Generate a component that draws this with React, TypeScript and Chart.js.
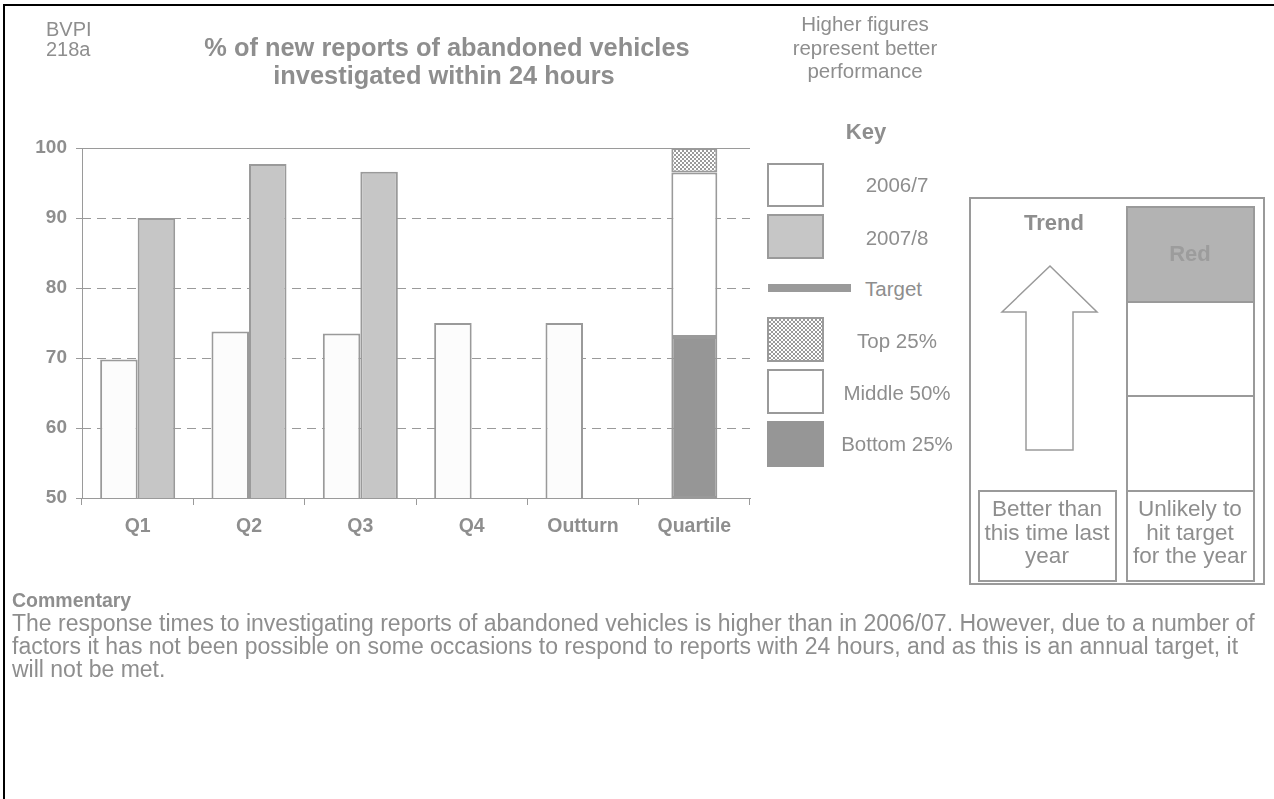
import React, { useEffect, useRef } from 'react';
import { Chart, registerables } from 'chart.js';

Chart.register(...registerables);

// ---- data ----
const categories = ['Q1', 'Q2', 'Q3', 'Q4', 'Outturn', 'Quartile'];
const values2006 = [69.8, 73.8, 73.5, 75.0, 75.0, null];
const values2007 = [90.0, 97.7, 96.6, null, null, null];
const quartileBottom = [null, null, null, null, null, [50, 73.0]];
const quartileMiddle = [null, null, null, null, null, [73.0, 96.5]];
const quartileTop = [null, null, null, null, null, [96.5, 100]];
const yMin = 50;
const yMax = 100;
const yStep = 10;

const FONT = '"Liberation Sans", Arial, Helvetica, sans-serif';
const TEXT = '#8e8e8e';
const EDGE = '#9a9a9a';

const gridPlugin = {
  id: 'dashGrid',
  beforeDatasetsDraw(chart: any) {
    const { ctx, chartArea, scales } = chart;
    const y = scales.y;
    ctx.save();
    ctx.strokeStyle = EDGE;
    ctx.lineWidth = 1;
    y.ticks.forEach((t: any) => {
      if (t.value === y.min) return;
      const py = Math.round(y.getPixelForValue(t.value)) + 0.5;
      ctx.setLineDash(t.value === y.max ? [] : [9, 6]);
      ctx.beginPath();
      ctx.moveTo(chartArea.left, py);
      ctx.lineTo(chartArea.right, py);
      ctx.stroke();
    });
    ctx.restore();
  },
};

function Txt(props: any) {
  const { x, y, children, size = 20, bold = false, align = 'center', color = TEXT } = props;
  const h = Math.round(size * 1.4);
  const style: any = {
    position: 'absolute',
    top: y - h / 2,
    height: h,
    lineHeight: h + 'px',
    fontSize: size,
    fontWeight: bold ? 700 : 400,
    whiteSpace: 'nowrap',
    color,
  };
  if (align === 'center') {
    style.left = x - 300;
    style.width = 600;
    style.textAlign = 'center';
  } else {
    style.left = x;
  }
  return <div style={style}>{children}</div>;
}

function Box(props: any) {
  const { l, t, w, h, bg = '#fff', border = true, extra = {} } = props;
  return (
    <div
      style={{
        position: 'absolute',
        left: l,
        top: t,
        width: w,
        height: h,
        boxSizing: 'border-box',
        background: bg,
        border: border ? `2px solid ${EDGE}` : 'none',
        ...extra,
      }}
    />
  );
}

const checkerCss = `repeating-conic-gradient(${EDGE} 0% 25%, #ffffff 0% 50%) 0 0 / 4px 4px`;

export default function App() {
  const ref = useRef<HTMLCanvasElement>(null);

  useEffect(() => {
    const canvas = ref.current!;
    const pc = document.createElement('canvas');
    pc.width = 4;
    pc.height = 4;
    const pctx = pc.getContext('2d')!;
    pctx.fillStyle = '#ffffff';
    pctx.fillRect(0, 0, 4, 4);
    pctx.fillStyle = EDGE;
    pctx.fillRect(0, 0, 2, 2);
    pctx.fillRect(2, 2, 2, 2);
    const pattern = canvas.getContext('2d')!.createPattern(pc, 'repeat');

    Chart.defaults.font.family = FONT;

    const common = { borderColor: EDGE, borderWidth: 2, borderSkipped: false };
    const chart = new Chart(canvas, {
      type: 'bar',
      data: {
        labels: categories,
        datasets: [
          { label: '2006/7', data: values2006, backgroundColor: '#fcfcfc', categoryPercentage: 0.674, barPercentage: 1, ...common },
          { label: '2007/8', data: values2007, backgroundColor: '#c6c6c6', categoryPercentage: 0.674, barPercentage: 1, ...common },
          { label: 'Bottom 25%', data: quartileBottom as any, backgroundColor: '#969696', grouped: false, categoryPercentage: 0.413, barPercentage: 1, ...common },
          { label: 'Middle 50%', data: quartileMiddle as any, backgroundColor: '#ffffff', grouped: false, categoryPercentage: 0.413, barPercentage: 1, ...common },
          { label: 'Top 25%', data: quartileTop as any, backgroundColor: pattern as any, grouped: false, categoryPercentage: 0.413, barPercentage: 1, ...common },
        ],
      } as any,
      options: {
        responsive: false,
        animation: false,
        devicePixelRatio: 1,
        layout: { padding: { top: 148, right: 10, left: 0, bottom: 0 } },
        plugins: { legend: { display: false }, tooltip: { enabled: false } },
        scales: {
          x: {
            type: 'category',
            offset: true,
            grid: { display: true, offset: true, drawOnChartArea: false, drawTicks: true, tickLength: 7, color: EDGE },
            border: { display: true, color: EDGE, width: 1 },
            ticks: { color: TEXT, font: { size: 19.5, weight: 'bold' }, padding: 10, maxRotation: 0 },
            afterFit: (s: any) => { s.height = 47; },
          },
          y: {
            min: yMin,
            max: yMax,
            grid: { display: true, drawOnChartArea: false, drawTicks: true, tickLength: 6, color: EDGE },
            border: { display: true, color: EDGE, width: 1 },
            ticks: { stepSize: yStep, color: TEXT, font: { size: 19, weight: 'bold' }, padding: 9 },
            afterFit: (s: any) => { s.width = 82; },
          },
        },
      } as any,
      plugins: [gridPlugin],
    });
    return () => chart.destroy();
  }, []);

  return (
    <div
      style={{
        position: 'fixed',
        left: 0,
        top: 0,
        width: 1274,
        height: 799,
        overflow: 'hidden',
        background: '#fff',
        fontFamily: FONT,
        color: TEXT,
      }}
    >
      <div style={{ position: 'absolute', left: 3, top: 4, width: 1400, height: 1000, border: '2px solid #000' }} />
      <canvas ref={ref} width={760} height={545} style={{ position: 'absolute', left: 0, top: 0, width: 760, height: 545 }} />

      <Txt x={46} y={28.5} size={20} align="left">BVPI</Txt>
      <Txt x={46} y={49} size={20} align="left">218a</Txt>

      <Txt x={447} y={46.5} size={25.4} bold>% of new reports of abandoned vehicles</Txt>
      <Txt x={444} y={74.5} size={25.4} bold>investigated within 24 hours</Txt>

      <Txt x={865} y={23.5} size={20.5}>Higher figures</Txt>
      <Txt x={865} y={47.5} size={20.5}>represent better</Txt>
      <Txt x={865} y={70.5} size={20.5}>performance</Txt>

      <Txt x={866} y={131} size={22} bold>Key</Txt>
      <Box l={767} t={163} w={57} h={44} bg="#ffffff" />
      <Txt x={897} y={184} size={20.5}>2006/7</Txt>
      <Box l={767} t={214} w={57} h={45} bg="#c6c6c6" />
      <Txt x={897} y={237} size={20.5}>2007/8</Txt>
      <Box l={768} t={284} w={83} h={8} bg={EDGE} border={false} />
      <Txt x={865} y={288} size={20.5} align="left">Target</Txt>
      <Box l={767} t={317} w={57} h={45} extra={{ background: checkerCss }} />
      <Txt x={897} y={340} size={20.5}>Top 25%</Txt>
      <Box l={767} t={369} w={57} h={45} bg="#ffffff" />
      <Txt x={897} y={392} size={20.5}>Middle 50%</Txt>
      <Box l={767} t={421} w={57} h={46} bg="#969696" border={false} />
      <Txt x={897} y={443} size={20.5}>Bottom 25%</Txt>

      {/* Trend / status panel */}
      <Box l={969} t={197} w={296} h={388} bg="transparent" />
      <Txt x={1054} y={222.5} size={22} bold>Trend</Txt>
      <svg style={{ position: 'absolute', left: 0, top: 0 }} width={1274} height={799}>
        <polygon
          points="1050,266 1097,312 1073,312 1073,450 1026,450 1026,312 1002,312"
          fill="#ffffff"
          stroke={EDGE}
          strokeWidth={1.5}
        />
      </svg>
      <Box l={1126} t={206} w={129} h={97} bg="#b3b3b3" />
      <Txt x={1190} y={253.5} size={22} bold color="#9c9c9c">Red</Txt>
      <Box l={1126} t={301} w={129} h={96} bg="#ffffff" />
      <Box l={1126} t={395} w={129} h={97} bg="#ffffff" />
      <Box l={1126} t={490} w={129} h={92} bg="#ffffff" />
      <Box l={978} t={490} w={139} h={92} bg="#ffffff" />
      <Txt x={1047} y={508.5} size={22.5}>Better than</Txt>
      <Txt x={1047} y={532} size={22.5}>this time last</Txt>
      <Txt x={1047} y={555.5} size={22.5}>year</Txt>
      <Txt x={1190} y={508.5} size={22.5}>Unlikely to</Txt>
      <Txt x={1190} y={532} size={22.5}>hit target</Txt>
      <Txt x={1190} y={555.5} size={22.5}>for the year</Txt>

      {/* Commentary */}
      <Txt x={12} y={600} size={19.5} bold align="left">Commentary</Txt>
      <Txt x={12} y={622.5} size={23} align="left">The response times to investigating reports of abandoned vehicles is higher than in 2006/07. However, due to a number of</Txt>
      <Txt x={12} y={646} size={23} align="left">factors it has not been possible on some occasions to respond to reports with 24 hours, and as this is an annual target, it</Txt>
      <Txt x={12} y={669} size={23} align="left">will not be met.</Txt>
    </div>
  );
}
